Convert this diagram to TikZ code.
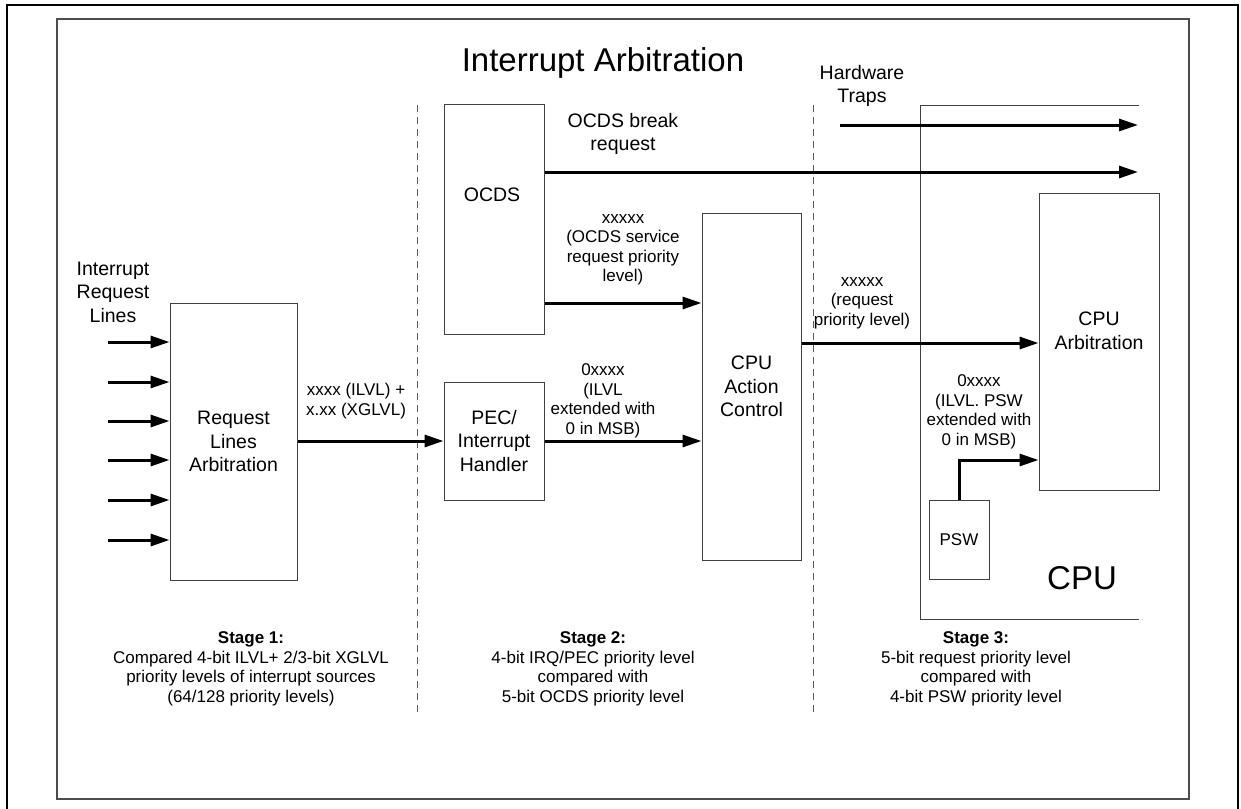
\documentclass[tikz,border=0pt]{standalone}
\usepackage{fontspec}
\setmainfont{Liberation Sans}
\usetikzlibrary{arrows.meta,calc}
\begin{document}
\begin{tikzpicture}[x=1pt,y=-1pt,
  box/.style={draw=black!75, line width=1pt, inner sep=0pt},
  arr/.style={line width=3pt, -{Triangle[length=19pt,width=12pt]}},
  bigf/.style={font=\fontsize{19.5}{23.5}\selectfont, align=center, inner sep=0pt},
  midf/.style={font=\fontsize{17}{19.5}\selectfont, align=center, inner sep=0pt},
  hugef/.style={font=\fontsize{33}{38}\selectfont, inner sep=0pt},
  sep/.style={draw=black!65, line width=1pt, dash pattern=on 7pt off 5pt}]
\useasboundingbox (0,0) rectangle (1241,808);
% frames
\draw[line width=2.4pt] (7,812) -- (7,5) -- (1238,5) -- (1238,812);
\draw[black!70, line width=1.3pt] (57,19) rectangle (1189,799);
% separators
\draw[sep] (417,105) -- (417,715);
\draw[sep] (813,105) -- (813,715);
% title
\node[hugef] (title) at (603,63) {Interrupt Arbitration};
% boxes
\node[box, bigf, minimum width=127pt, minimum height=277pt] (rla) at (233.5,441.5) {Request\\Lines\\Arbitration};
\node[box, minimum width=100pt, minimum height=230pt] (ocds) at (494,219) {};
\node[bigf] (ocdst) at (492,195) {OCDS};
\node[box, bigf, minimum width=100pt, minimum height=118pt] (pec) at (494,441) {PEC/\\Interrupt\\Handler};
\node[box, bigf, minimum width=99pt, minimum height=347pt] (cac) at (751.5,386.5) {CPU\\Action\\Control};
\draw[box] (1139,105) -- (920,105) -- (920,619) -- (1139,619);
\node[hugef] (cpu) at (1082,578) {CPU};
\node[box, minimum width=120pt, minimum height=297pt] (arb) at (1099,341.5) {};
\node[bigf] (arbt) at (1099,331) {CPU\\Arbitration};
\node[box, midf, minimum width=60pt, minimum height=79pt] (psw) at (959,539.5) {PSW};
% inputs
\node[bigf] (irl) at (113,292) {Interrupt\\Request\\Lines};
\foreach \y [count=\i] in {342,382,421,460,500,540} {
  \coordinate (in\i) at (108,\y);
  \draw[arr] (in\i) -- (in\i -| rla.west);
}
% rla -> pec
\draw[arr] (rla.east |- pec.west) -- (pec.west);
\node[midf] (l1) at (356,401) {xxxx (ILVL) +\\x.xx (XGLVL)};
% ocds -> cac
\coordinate (o1) at (544,303);
\draw[arr] (o1 -| ocds.east) -- (o1 -| cac.west);
\node[midf] (l2) at (623,250) {xxxxx\\(OCDS service\\request priority\\level)};
% pec -> cac
\draw[arr] (pec.east) -- (pec.east -| cac.west);
\node[midf] (l3) at (603,401) {0xxxx\\(ILVL\\extended with\\0 in MSB)};
% OCDS break request
\coordinate (brk) at (1138,172);
\draw[arr] (brk -| ocds.east) -- (brk);
\node[bigf] (l4) at (623,134) {OCDS break\\request};
% hardware traps
\coordinate (hw0) at (840,125);
\coordinate (hw1) at (1138,125);
\draw[arr] (hw0) -- (hw1);
\node[bigf] (l5) at (862,86) {Hardware\\Traps};
% cac -> arb
\coordinate (c1) at (801,343);
\draw[arr] (c1 -| cac.east) -- (c1 -| arb.west);
\node[midf] (l6) at (862,303) {xxxxx\\(request\\priority level)};
% psw -> arb
\coordinate (p1) at (960,460);
\draw[arr] (psw.north) |- (p1 -| arb.west);
\node[midf] (l7) at (979,412) {0xxxx\\(ILVL. PSW\\extended with\\0 in MSB)};
% stages
\node[midf] (s1) at (251,669) {\textbf{Stage 1:}\\Compared 4-bit ILVL+ 2/3-bit XGLVL\\priority levels of interrupt sources\\(64/128 priority levels)};
\node[midf] (s2) at (593,669) {\textbf{Stage 2:}\\4-bit IRQ/PEC priority level\\compared with\\5-bit OCDS priority level};
\node[midf] (s3) at (976,669) {\textbf{Stage 3:}\\5-bit request priority level\\compared with\\4-bit PSW priority level};
\end{tikzpicture}
\end{document}
